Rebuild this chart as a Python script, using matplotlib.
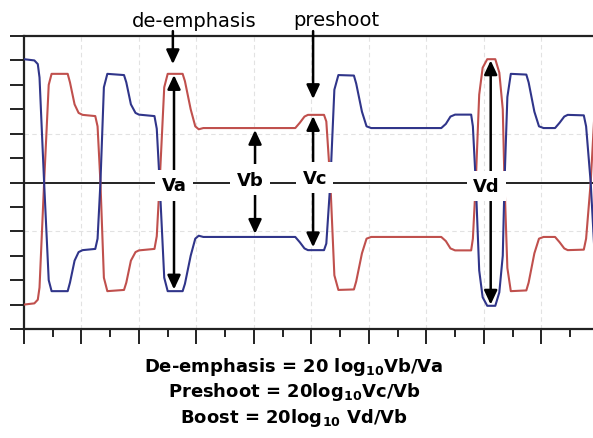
import matplotlib.pyplot as plt
from matplotlib.ticker import MultipleLocator

# time axis in scope divisions, voltage in vertical divisions
t = [0.00, 0.18, 0.24, 0.27, 0.35, 0.43, 0.48, 0.76, 0.80, 0.88, 0.95, 1.02, 1.24,
     1.28, 1.33, 1.39, 1.45, 1.74, 1.78, 1.86, 1.94, 2.00, 2.27, 2.31, 2.36, 2.44,
     2.50, 2.76, 2.80, 2.90, 2.98, 3.04, 3.12, 4.72, 4.80, 4.88, 4.94, 5.22, 5.26,
     5.33, 5.40, 5.47, 5.74, 5.78, 5.88, 5.96, 6.04, 7.26, 7.34, 7.42, 7.50, 7.78,
     7.81, 7.86, 7.92, 7.98, 8.06, 8.20, 8.27, 8.33, 8.36, 8.41, 8.47, 8.74, 8.78,
     8.88, 8.96, 9.04, 9.24, 9.32, 9.40, 9.46, 9.74, 9.78, 9.86, 9.95]
blue = [5.05, 5.00, 4.85, 4.30, 0.0, -4.0, -4.45, -4.45, -4.1, -3.2, -2.85, -2.77, -2.72,
        -2.3, 0.0, 3.9, 4.45, 4.4, 4.1, 3.2, 2.85, 2.78, 2.72, 2.2, 0.0, -3.9,
        -4.45, -4.45, -4.15, -3.0, -2.3, -2.18, -2.23, -2.23, -2.45, -2.7, -2.77, -2.77, -2.5,
        0.0, 3.8, 4.4, 4.38, 4.05, 2.9, 2.3, 2.23, 2.23, 2.4, 2.7, 2.78, 2.78,
        2.3, 0.0, -3.6, -4.7, -5.05, -5.05, -4.5, -3.0, 0.0, 3.5, 4.45, 4.42, 4.1,
        2.9, 2.3, 2.23, 2.23, 2.45, 2.7, 2.77, 2.75, 2.3, 0.0, -3.9]
red = [-5.0, -4.95, -4.8, -4.30, 0.0, 4.0, 4.45, 4.45, 4.1, 3.2, 2.85, 2.77, 2.72,
       2.3, 0.0, -3.9, -4.45, -4.4, -4.1, -3.2, -2.85, -2.78, -2.72, -2.2, 0.0, 3.9,
       4.45, 4.45, 4.15, 3.0, 2.3, 2.18, 2.23, 2.23, 2.45, 2.7, 2.77, 2.77, 2.5,
       0.0, -3.8, -4.4, -4.38, -4.05, -2.9, -2.3, -2.23, -2.23, -2.4, -2.7, -2.78, -2.78,
       -2.3, 0.0, 3.6, 4.7, 5.05, 5.05, 4.5, 3.0, 0.0, -3.5, -4.45, -4.42, -4.1,
       -2.9, -2.3, -2.23, -2.23, -2.45, -2.7, -2.77, -2.75, -2.3, 0.0, 3.9]

grid_levels = [-2, 2]

# measurement labels: (name, x, y) and arrow ends
labels = [("Va", 2.61, -0.12), ("Vb", 3.93, 0.12), ("Vc", 5.06, 0.2), ("Vd", 8.05, -0.15)]
va_arrow = (2.61, 4.4, -4.38)
vb_arrow = (4.02, 2.15, -2.1)
vc_arrow = (5.03, 2.72, -2.65)
vd_arrow = (8.12, 5.0, -5.0)

formulas = [r"De-emphasis = 20 log$_{\mathbf{10}}$Vb/Va",
            r"Preshoot = 20log$_{\mathbf{10}}$Vc/Vb",
            r"Boost = 20log$_{\mathbf{10}}$ Vd/Vb"]

fig = plt.figure(figsize=(5.93, 4.39), dpi=100)
ax = fig.add_axes([24/593, 109/439, 569/593, 293/439])
ax.set_xlim(0, 9.9)
ax.set_ylim(-6, 6)

dark = "#222222"
for s in ["left", "bottom", "top"]:
    ax.spines[s].set_linewidth(1.6)
    ax.spines[s].set_color(dark)
ax.spines["right"].set_visible(False)

ax.xaxis.set_major_locator(MultipleLocator(1))
ax.xaxis.set_minor_locator(MultipleLocator(0.5))
ax.yaxis.set_major_locator(MultipleLocator(1))
ax.tick_params(axis="x", which="major", length=11, width=1.4, color=dark, labelbottom=False)
ax.tick_params(axis="x", which="minor", length=6, width=1.4, color=dark)
ax.tick_params(axis="y", which="major", length=10, width=1.4, color=dark, labelleft=False)

# faint scope graticule
for xv in range(1, 10):
    ax.axvline(xv, color="#e2e2e2", lw=0.8, ls=(0, (4, 3)), zorder=0)
for yv in grid_levels:
    ax.axhline(yv, color="#e2e2e2", lw=0.8, ls=(0, (4, 3)), zorder=0)
ax.axhline(0, color=dark, lw=1.4, zorder=1)

ax.plot(t, red, color="#c0504d", lw=1.5, zorder=3)
ax.plot(t, blue, color="#30358a", lw=1.5, zorder=3)

head = "head_length=0.6,head_width=0.28"
aprops = dict(color="black", lw=1.8, shrinkA=0, shrinkB=0, mutation_scale=14)

def dbl(x, top, bot):
    ax.annotate("", xy=(x, top), xytext=(x, bot),
                arrowprops=dict(arrowstyle="<|-|>," + head, **aprops), zorder=5)

dbl(*va_arrow)
dbl(*vc_arrow)
dbl(*vd_arrow)
ax.annotate("", xy=(vb_arrow[0], vb_arrow[1]), xytext=(vb_arrow[0], 0.12),
            arrowprops=dict(arrowstyle="-|>," + head, **aprops), zorder=5)
ax.annotate("", xy=(vb_arrow[0], vb_arrow[2]), xytext=(vb_arrow[0], 0.12),
            arrowprops=dict(arrowstyle="-|>," + head, **aprops), zorder=5)

# pointers from the top captions
ax.annotate("", xy=(2.59, 4.85), xytext=(2.59, 6.2), annotation_clip=False,
            arrowprops=dict(arrowstyle="-|>," + head, **aprops), zorder=5)
ax.annotate("", xy=(5.03, 3.42), xytext=(5.03, 6.2), annotation_clip=False,
            arrowprops=dict(arrowstyle="-|>," + head, **aprops), zorder=5)
ax.text(2.96, 6.62, "de-emphasis", ha="center", va="center", fontsize=14, clip_on=False)
ax.text(5.43, 6.66, "preshoot", ha="center", va="center", fontsize=14, clip_on=False)

for name, x, y in labels:
    ax.text(x, y, name, ha="center", va="center", fontsize=13, fontweight="bold", zorder=10,
            bbox=dict(boxstyle="square,pad=0.35", fc="white", ec="none"))

for i, f in enumerate(formulas):
    fig.text(294/593, 1 - (372 + 25.5*i)/439, f, ha="center", va="baseline",
             fontsize=13, fontweight="bold")

fig.savefig("out.png", dpi=100)
